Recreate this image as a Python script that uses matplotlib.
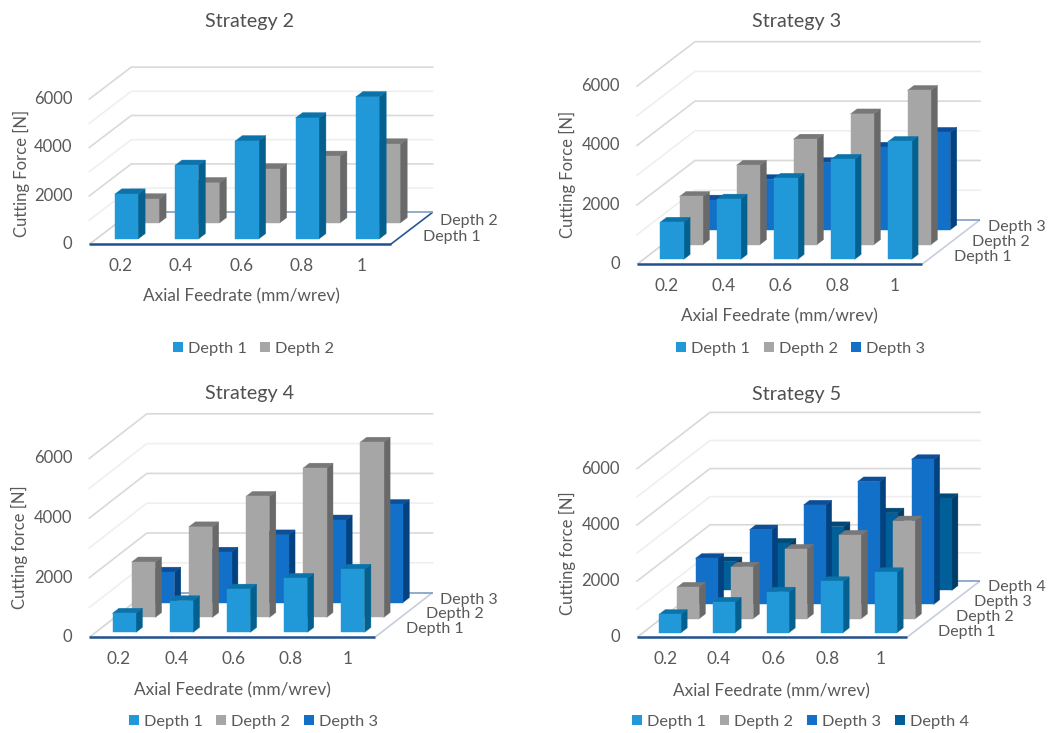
import matplotlib
matplotlib.use("Agg")
import matplotlib.pyplot as plt
from matplotlib.patches import Polygon, Patch

plt.rcParams["font.family"] = ["Lato", "DejaVu Sans"]

W, H = 1052, 733
TEXT = "#595959"

feedrates = ["0.2", "0.4", "0.6", "0.8", "1"]
force_ticks = [0, 2000, 4000, 6000]
grid_levels = [0, 1000, 2000, 3000, 4000, 5000, 6000]
depth_names = ["Depth 1", "Depth 2", "Depth 3", "Depth 4"]

# Cutting force [N] per strategy, one list per cutting depth
s2_depth1 = [1850, 3040, 4050, 5000, 5870]
s2_depth2 = [990, 1660, 2230, 2750, 3260]

s3_depth1 = [1250, 2030, 2730, 3370, 3970]
s3_depth2 = [1620, 2670, 3550, 4400, 5190]
s3_depth3 = [1000, 1690, 2260, 2780, 3280]

s4_depth1 = [640, 1060, 1450, 1810, 2120]
s4_depth2 = [1860, 3040, 4060, 5010, 5880]
s4_depth3 = [1020, 1690, 2270, 2770, 3290]

s5_depth1 = [650, 1090, 1450, 1820, 2140]
s5_depth2 = [1120, 1840, 2470, 2970, 3480]
s5_depth3 = [1640, 2660, 3540, 4370, 5160]
s5_depth4 = [1020, 1680, 2270, 2760, 3270]

# front, side and top face colours of each depth
shades = [
    ("#2199D8", "#04618F", "#0C72AA"),
    ("#A6A6A6", "#696969", "#787878"),
    ("#1370C8", "#03417F", "#0C4F98"),
    ("#005F99", "#013C66", "#014A78"),
]

panels = [
    dict(title="Strategy 2", ylabel="Cutting Force [N]", series=[s2_depth1, s2_depth2],
         box=(0, 526, 0, 366), origin=(89.3, 244.3), cat=60.27, unit=24.2, row=(21.0, 16.0), bar=0.387,
         title_at=(250, 21.5), xlabel_at=(241, 296), ylabel_at=(21, 173), tick_x=72.5, legend_at=(253.5, 349),
         depth_at=[(423.3, 237.5), (440, 221)], right_edge="#2A5597"),
    dict(title="Strategy 3", ylabel="Cutting Force [N]", series=[s3_depth1, s3_depth2, s3_depth3],
         box=(526, 1052, 0, 366), origin=(637, 264.3), cat=57.0, unit=29.7, row=(19.33, 14.8), bar=0.41,
         title_at=(797, 21.5), xlabel_at=(779, 316), ylabel_at=(567, 174), tick_x=620, legend_at=(800.7, 349),
         depth_at=[(953.5, 257.5), (972, 242), (987.5, 227)], right_edge="#C5CEDD"),
    dict(title="Strategy 4", ylabel="Cutting force [N]", series=[s4_depth1, s4_depth2, s4_depth3],
         box=(0, 526, 366, 733), origin=(89.3, 637.3), cat=57.13, unit=29.8, row=(19.2, 14.9), bar=0.41,
         title_at=(250, 394), xlabel_at=(232, 690), ylabel_at=(19, 547), tick_x=72.5, legend_at=(253.3, 722),
         depth_at=[(406.5, 629.5), (426, 614), (440, 600)], right_edge="#C5CEDD"),
    dict(title="Strategy 5", ylabel="Cutting force [N]", series=[s5_depth1, s5_depth2, s5_depth3, s5_depth4],
         box=(526, 1052, 366, 733), origin=(637, 637.3), cat=54.0, unit=28.1, row=(18.25, 14.08), bar=0.407,
         title_at=(797, 394), xlabel_at=(771, 691), ylabel_at=(567, 553), tick_x=620, legend_at=(800.3, 722),
         depth_at=[(937.5, 632), (956, 617), (974, 602), (987.5, 587)], right_edge="#C5CEDD"),
]


def draw_panel(fig, p):
    left, right, top, bottom = p["box"]
    ox, oy = p["origin"]
    cat, unit = p["cat"], p["unit"]
    rdx, rdy = p["row"]
    n_cat, n_rows = len(feedrates), len(p["series"])

    ax = fig.add_axes([left / W, 1 - bottom / H, (right - left) / W, (bottom - top) / H])
    ax.set_xlim((left - ox) / cat, (right - ox) / cat)
    ax.set_ylim((oy - bottom) / unit * 1000, (oy - top) / unit * 1000)
    ax.axis("off")

    # oblique projection: category position, force, and position along the depth axis
    def proj(x, force, depth=0.0):
        return (x + depth * rdx / cat, force + depth * rdy / unit * 1000)

    def at_px(px, py):
        return ((px - ox) / cat, (oy - py) / unit * 1000)

    # wall gridlines
    for level in grid_levels:
        colour = "#D9D9D9" if level % 2000 == 0 else "#EFEFEF"
        xs, ys = zip(proj(0, level), proj(0, level, n_rows), proj(n_cat, level, n_rows))
        if level > 0:
            ax.plot(xs, ys, color=colour, lw=1.2, zorder=1, solid_joinstyle="miter")

    # floor outline
    def edge(a, b, colour, lw):
        ax.plot([a[0], b[0]], [a[1], b[1]], color=colour, lw=lw, zorder=2, solid_capstyle="butt")

    edge(proj(0, 0), proj(0, 0, n_rows), "#D5D5D5", 1.2)
    edge(proj(n_cat, 0), proj(n_cat, 0, n_rows), p["right_edge"], 1.2)
    edge(proj(0, 0, n_rows), proj(n_cat, 0, n_rows), "#7F9CC4", 1.2)
    edge(proj(0, 0), proj(n_cat, 0), "#23508F", 1.8)

    # bars, from the rear row to the front one
    half = p["bar"] / 2
    for r in range(n_rows - 1, -1, -1):
        front, side, lid = shades[r]
        z = 10 + (n_rows - r) * 3
        near, far = r + 1 / 3, r + 2 / 3
        for i, value in enumerate(p["series"][r]):
            x0, x1 = i + 0.5 - half, i + 0.5 + half
            ax.add_patch(Polygon([proj(x1, 0, near), proj(x1, 0, far), proj(x1, value, far), proj(x1, value, near)],
                                 closed=True, fc=side, ec=side, lw=0.3, zorder=z))
            ax.add_patch(Polygon([proj(x0, value, near), proj(x1, value, near), proj(x1, value, far), proj(x0, value, far)],
                                 closed=True, fc=lid, ec=lid, lw=0.3, zorder=z))
            ax.add_patch(Polygon([proj(x0, 0, near), proj(x1, 0, near), proj(x1, value, near), proj(x0, value, near)],
                                 closed=True, fc=front, ec=front, lw=0.3, zorder=z + 1))

    # text
    for t in force_ticks:
        x, _ = at_px(p["tick_x"], 0)
        ax.text(x, t, f"{t}", ha="right", va="center", color=TEXT, fontsize=12)
    label_y = at_px(0, oy + 22)[1]
    for i, name in enumerate(feedrates):
        ax.text(i + 0.52, label_y, name, ha="center", va="center", color=TEXT, fontsize=12.4)
    for name, (px, py) in zip(depth_names, p["depth_at"]):
        x, y = at_px(px, py)
        ax.text(x, y, name, ha="left", va="center", color=TEXT, fontsize=11.5, zorder=60)

    ax.text(*at_px(*p["title_at"]), p["title"], ha="center", va="center", color="#505050", fontsize=14.2)
    ax.text(*at_px(*p["xlabel_at"]), "Axial Feedrate (mm/wrev)", ha="center", va="center", color=TEXT, fontsize=12.4)
    ax.text(*at_px(*p["ylabel_at"]), p["ylabel"], ha="center", va="center", rotation=90, color=TEXT, fontsize=12)

    handles = [Patch(fc=shades[r][0], ec="none", label=depth_names[r]) for r in range(n_rows)]
    ax.legend(handles=handles, loc="center", bbox_to_anchor=at_px(*p["legend_at"]), bbox_transform=ax.transData,
              ncols=n_rows, frameon=False, fontsize=11.8, labelcolor=TEXT, handlelength=0.6, handleheight=0.6,
              handletextpad=0.3, columnspacing=0.85, borderpad=0, borderaxespad=0)


fig = plt.figure(figsize=(W / 100, H / 100), dpi=100, facecolor="white")
for panel in panels:
    draw_panel(fig, panel)
fig.savefig("out.png", dpi=100)
